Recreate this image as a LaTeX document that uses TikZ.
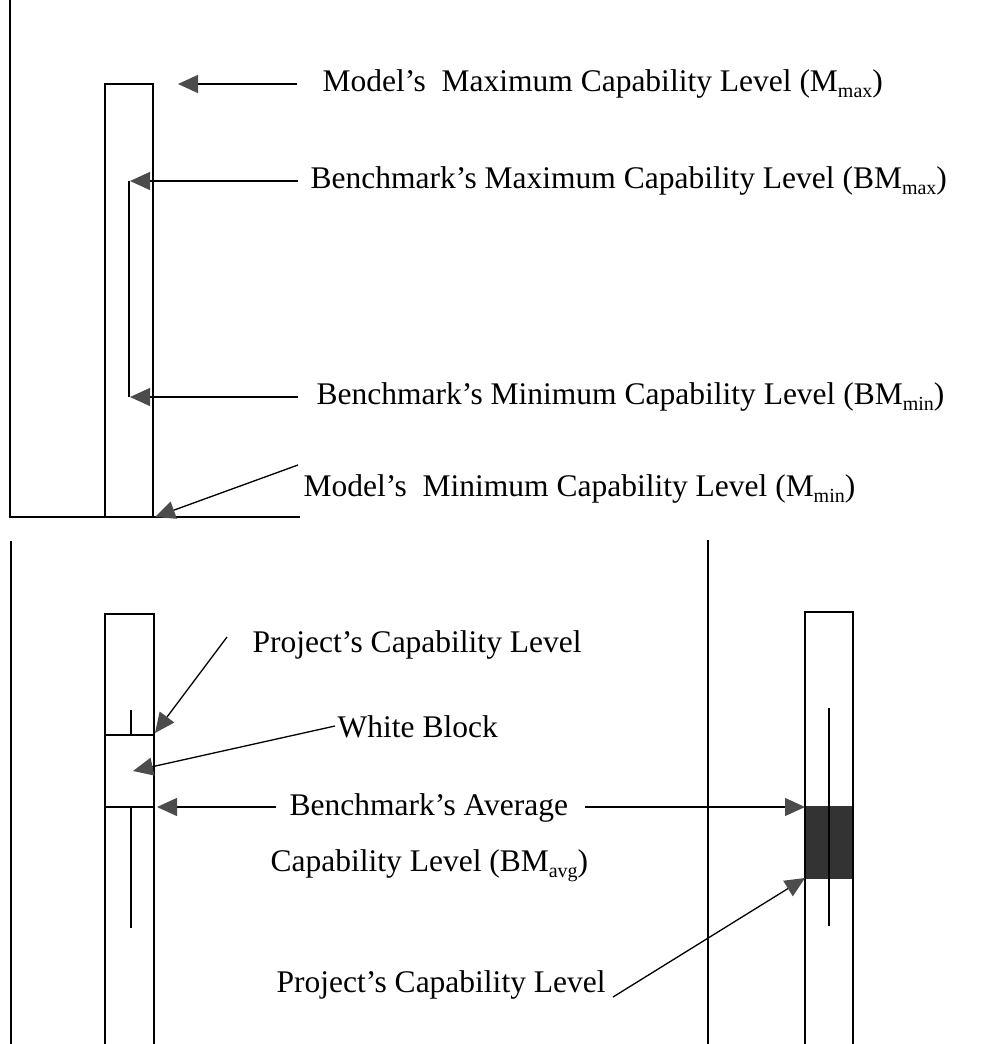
\documentclass[tikz,border=0pt]{standalone}
\usepackage{fontspec}
\setmainfont{Liberation Serif}
\usetikzlibrary{arrows.meta}
\newcommand{\lsub}[1]{\raisebox{-0.2em}{\fontsize{20}{20}\selectfont #1}}
\begin{document}
\begin{tikzpicture}[x=1pt,y=-1pt,line width=1.3pt,
  arr/.style={-{Triangle[length=20pt,width=18pt,fill=black!70,color=black!70]}},
  lbl/.style={anchor=west,font=\fontsize{31.5}{36}\selectfont,inner sep=0pt},
  bar/.style={line width=1.3pt},
  blk/.style={fill=black!80,draw=black!80,line width=0.6pt}]
\useasboundingbox (0,0) rectangle (987,1044);
% ---------- top panel ----------
\coordinate (tl) at (10,0);
\coordinate (bl) at (10,517);
\coordinate (br) at (300,517);
\draw (tl) -- (bl) -- (br);
\coordinate (barA) at (105,517);
\coordinate (barB) at (153,84);
\draw[bar] (barA) rectangle (barB);
\coordinate (inTop) at (129,181);
\coordinate (inBot) at (129,397);
\draw (inTop) -- (inBot);
% labels
\node[lbl] (tMmax) at (322,84) {Model’s\ \ Maximum Capability Level (M\lsub{max})};
\node[lbl] (tBMmax) at (310,181) {Benchmark’s Maximum Capability Level (BM\lsub{max})};
\node[lbl] (tBMmin) at (316,397) {Benchmark’s Minimum Capability Level (BM\lsub{min})};
\node[lbl] (tMmin) at (303,489) {Model’s\ \ Minimum Capability Level (M\lsub{min})};
% arrows
\coordinate (s1) at (297,84);  \coordinate (e1) at (178,84);
\coordinate (s2) at (298,181); \coordinate (e2) at (130,181);
\coordinate (s3) at (298,397); \coordinate (e3) at (130,397);
\coordinate (s4) at (298,465); \coordinate (e4) at (155,517);
\draw[arr] (s1) -- (e1);
\draw[arr] (s2) -- (e2);
\draw[arr] (s3) -- (e3);
\draw[arr] (s4) -- (e4);
% ---------- bottom panel ----------
\coordinate (lt) at (11,541);
\coordinate (lb) at (11,1044);
\draw (lt) -- (lb);
\coordinate (mt) at (708,540);
\coordinate (mb) at (708,1044);
\draw (mt) -- (mb);
% left bar
\draw[bar] (105,1044) -- (105,614) -- (154,614) -- (154,1044);
\draw (105,735) -- (154,735);
\draw (131,710) -- (131,735);
\draw (105,807) -- (154,807);
\draw (131,807) -- (131,928);
% right bar
\draw[blk] (805,806) rectangle (853,878);
\draw[bar] (805,1044) -- (805,612) -- (853,612) -- (853,1044);
\draw (829,708) -- (829,926);
% labels
\node[lbl] (tP1) at (252,645) {Project’s Capability Level};
\node[lbl] (tWB) at (337,727) {White Block};
\node[lbl] (tAvg1) at (289,808) {Benchmark’s Average};
\node[lbl] (tAvg2) at (270,866) {Capability Level (BM\lsub{avg})};
\node[lbl] (tP2) at (276,985) {Project’s Capability Level};
% arrows
\coordinate (s5) at (227,637); \coordinate (e5) at (155,733);
\coordinate (s6) at (335,726); \coordinate (e6) at (133,771);
\coordinate (s7) at (276,807); \coordinate (e7) at (157,807);
\coordinate (s8) at (585,807); \coordinate (e8) at (805,807);
\coordinate (s9) at (613,997); \coordinate (e9) at (805,878);
\draw[arr] (s5) -- (e5);
\draw[arr] (s6) -- (e6);
\draw[arr] (s7) -- (e7);
\draw[arr] (s8) -- (e8);
\draw[arr] (s9) -- (e9);
\end{tikzpicture}
\end{document}
